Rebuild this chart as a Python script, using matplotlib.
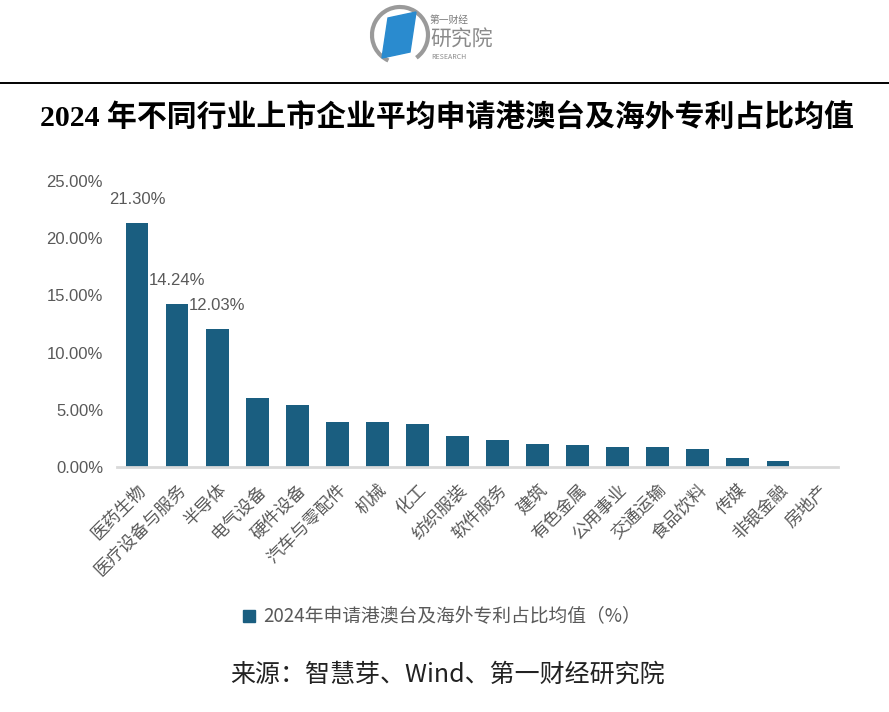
import matplotlib.pyplot as plt
import matplotlib.patches as mpatches
import numpy as np

plt.rcParams['font.family'] = ['Noto Sans CJK SC', 'DejaVu Sans']

industries = ['医药生物', '医疗设备与服务', '半导体', '电气设备', '硬件设备', '汽车与零配件',
              '机械', '化工', '纺织服装', '软件服务', '建筑', '有色金属', '公用事业',
              '交通运输', '食品饮料', '传媒', '非银金融', '房地产']
share = [21.30, 14.24, 12.03, 6.00, 5.40, 3.97, 3.89, 3.80, 2.75, 2.40, 2.04,
         1.95, 1.78, 1.78, 1.60, 0.82, 0.55, 0.0]
labelled = 3
yticks = [0, 5, 10, 15, 20, 25]

bar_color = '#1a5e80'
gray = '#595959'

fig = plt.figure(figsize=(8.89, 7.12), dpi=100)

# header: logo + rule
fig.add_artist(plt.Line2D([0, 1], [1 - 82.5 / 712] * 2, color='black', lw=1.4))
lx, ly = 400 / 889, 1 - 35 / 712
arc = mpatches.Arc((lx, ly), 56 / 889, 56 / 712, theta1=-60, theta2=250,
                   color='#9a9a9a', lw=3, transform=fig.transFigure)
fig.add_artist(arc)
para = mpatches.Polygon([[388 / 889, 1 - 18 / 712], [416 / 889, 1 - 12 / 712],
                         [410 / 889, 1 - 52 / 712], [382 / 889, 1 - 58 / 712]],
                        closed=True, color='#2a8bcf', transform=fig.transFigure)
fig.add_artist(para)
fig.text(430 / 889, 1 - 20 / 712, '第一财经', fontsize=7, color='#7a7a7a', va='center')
fig.text(430 / 889, 1 - 40 / 712, '研究院', fontsize=15, color='#8a8a8a', va='center')
fig.text(431 / 889, 1 - 57 / 712, 'RESEARCH', fontsize=5, color='#8a8a8a', va='center')

fig.text(447 / 889, 1 - 118 / 712, '2024 年不同行业上市企业平均申请港澳台及海外专利占比均值',
         ha='center', va='center', fontsize=21.5, fontweight='bold',
         family=['Liberation Serif', 'Noto Sans CJK SC'])

ax = fig.add_axes([117 / 889, 1 - 467 / 712, 721 / 889, 286 / 712])
x = np.arange(len(industries))
ax.bar(x, share, width=0.57, color=bar_color)

for i in range(labelled):
    ax.annotate(f'{share[i]:.2f}%', (x[i], share[i]), xytext=(0, 17),
                textcoords='offset points', ha='center', va='center',
                fontsize=12, color=gray, family=['Liberation Sans'])

ax.set_xlim(-0.5, len(industries) - 0.5)
ax.set_ylim(0, 25)
ax.set_yticks(yticks)
ax.set_yticklabels([f'{v:.2f}%' for v in yticks], fontsize=12, color=gray,
                   family=['Liberation Sans'])
ax.set_xticks(x)
ax.set_xticklabels(industries, rotation=45, ha='right', rotation_mode='anchor',
                   fontsize=12.5, color=gray)
ax.tick_params(axis='both', length=0)
ax.tick_params(axis='y', pad=10)
ax.tick_params(axis='x', pad=10)
for s in ['top', 'right', 'left']:
    ax.spines[s].set_visible(False)
ax.spines['bottom'].set_color('#d9d9d9')
ax.spines['bottom'].set_linewidth(2)

handle = mpatches.Patch(color=bar_color)
fig.legend([handle], ['2024年申请港澳台及海外专利占比均值（%）'], loc='center',
           bbox_to_anchor=(442 / 889, 1 - 617 / 712), frameon=False, fontsize=13.5,
           labelcolor=gray, handlelength=0.65, handleheight=0.65, handletextpad=0.4)

fig.text(447 / 889, 1 - 675 / 712, '来源：智慧芽、Wind、第一财经研究院', ha='center', va='center',
         fontsize=18, color='#222222')

fig.savefig('out.png', dpi=100)
